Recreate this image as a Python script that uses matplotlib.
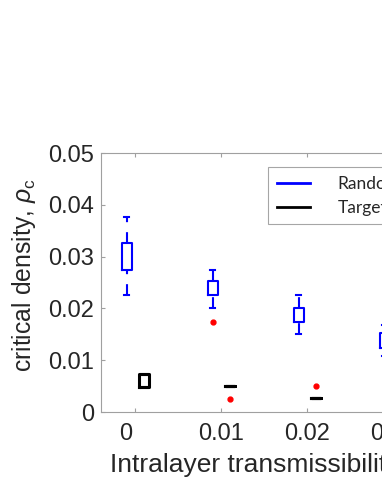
import matplotlib
matplotlib.use("Agg")
import matplotlib.pyplot as plt
import matplotlib.transforms as mtransforms
from matplotlib.lines import Line2D

plt.rcParams['font.family'] = ['Liberation Sans', 'DejaVu Sans']
plt.rcParams['mathtext.fontset'] = 'custom'
plt.rcParams['mathtext.rm'] = 'Liberation Sans'
plt.rcParams['mathtext.it'] = 'Liberation Sans:italic'

# transmissibility values on the x axis
x_ticks = [0, 0.01, 0.02, 0.03, 0.04, 0.05]
x_ticklabels = ['0', '0.01', '0.02', '0.03', '0.04', '0.05']
y_ticks = [0, 0.01, 0.02, 0.03, 0.04, 0.05]
y_ticklabels = ['0', '0.01', '0.02', '0.03', '0.04', '0.05']

# Random attack: box stats per transmissibility
rand_pos = [0, 0.01, 0.02, 0.03]
rand_whislo = [0.0226, 0.0200, 0.0151, 0.0108]
rand_q1 = [0.0274, 0.0226, 0.0174, 0.0124]
rand_q3 = [0.0326, 0.0252, 0.0200, 0.0153]
rand_whishi = [0.0376, 0.0275, 0.0226, 0.0168]
rand_fliers = [[], [0.0174], [], []]

# Targeted attack
targ_pos = [0, 0.01, 0.02]
targ_whislo = [0.0049, 0.0050, 0.00264]
targ_q1 = [0.0049, 0.0050, 0.00264]
targ_q3 = [0.0073, 0.0050, 0.00264]
targ_whishi = [0.0073, 0.0050, 0.00264]
targ_fliers = [[], [0.00257], [0.0050]]

W, H = 382, 494
x0, x1 = -0.004, 0.054
px_per_unit = 8600

fig = plt.figure(figsize=(W / 100, H / 100), dpi=100)
axw = (x1 - x0) * px_per_unit
ax = fig.add_axes([101 / W, (H - 412) / H, axw / W, 259 / H])


def make_stats(lo, q1, q3, hi, fl):
    return [dict(med=a, q1=a, q3=b, whislo=l, whishi=h, fliers=f)
            for l, a, b, h, f in zip(lo, q1, q3, hi, fl)]


flier = dict(marker='o', markersize=3.5, markerfacecolor='red',
             markeredgecolor='red', linestyle='none')

art = ax.bxp(make_stats(rand_whislo, rand_q1, rand_q3, rand_whishi, rand_fliers),
             positions=[p - 0.001 for p in rand_pos], widths=0.0011,
             capwidths=0.0006, manage_ticks=False,
             boxprops=dict(color='blue', linewidth=1.5),
             whiskerprops=dict(color='blue', linewidth=1.5, linestyle=(0, (5.2, 4.8))),
             capprops=dict(color='blue', linewidth=1.5),
             medianprops=dict(visible=False), flierprops=flier)
# lower whiskers are dashed from the cap towards the box
for w in art['whiskers'][::2]:
    w.set_ydata(w.get_ydata()[::-1])

ax.bxp(make_stats(targ_whislo, targ_q1, targ_q3, targ_whishi, targ_fliers),
       positions=[p + 0.001 for p in targ_pos], widths=0.0011,
       capwidths=0.0006, manage_ticks=False,
       boxprops=dict(color='black', linewidth=2.2),
       whiskerprops=dict(color='black', linewidth=2.2),
       capprops=dict(color='black', linewidth=2.2),
       medianprops=dict(visible=False), flierprops=flier)

ax.set_xlim(x0, x1)
ax.set_ylim(0, 0.05)
ax.set_xticks(x_ticks)
ax.set_xticklabels(x_ticklabels)
ax.set_yticks(y_ticks)
ax.set_yticklabels(y_ticklabels)

for s in ax.spines.values():
    s.set_color('#a0a0a0')
    s.set_linewidth(0.8)
ax.tick_params(direction='in', length=3, width=0.8, color='#a0a0a0',
               labelcolor='#262626', labelsize=17, top=True, right=True)
ax.tick_params(axis='x', pad=8)
ax.tick_params(axis='y', pad=5)

# first x label sits a little left of its tick
lab0 = ax.get_xticklabels()[0]
lab0.set_transform(lab0.get_transform() + mtransforms.ScaledTranslation(-10 / 100, 0, fig.dpi_scale_trans))

ax.set_xlabel('Intralayer transmissibility', fontsize=19, color='#262626', ha='left')
ax.xaxis.set_label_coords((110.5 - 101) / axw, -0.158)
ax.set_ylabel(r'critical density, $\rho_\mathrm{c}$', fontsize=17.8, color='#262626')
ax.yaxis.set_label_coords((38 - 101) / axw, (412 - 275) / 259)

handles = [Line2D([], [], color='blue', linewidth=2),
           Line2D([], [], color='black', linewidth=2)]
leg = ax.legend(handles, ['Random', 'Targeted'], loc='upper left',
                bbox_to_anchor=(268.3 / W, 1 - 167.3 / H), bbox_transform=fig.transFigure,
                borderaxespad=0, prop={'family': 'Lato', 'size': 12.5},
                handlelength=1.9, handletextpad=1.6, borderpad=0.5, labelspacing=0.45,
                fancybox=False, framealpha=1, edgecolor='#a6a6a6')
leg.get_frame().set_linewidth(0.8)
for t in leg.get_texts():
    t.set_color('#262626')

fig.savefig('out.png', dpi=100)
